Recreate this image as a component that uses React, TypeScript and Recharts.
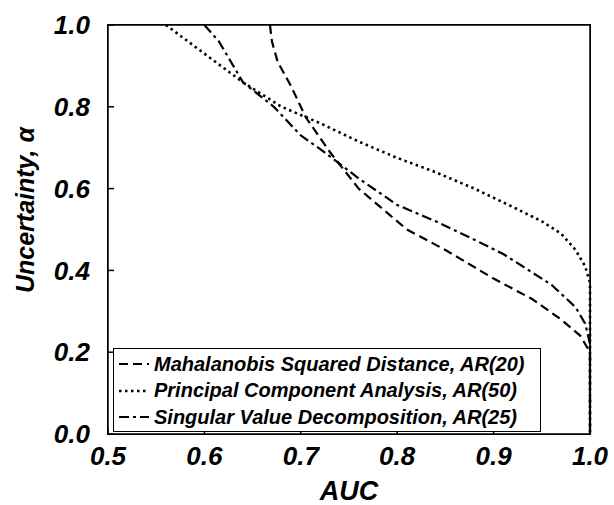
import React, { useEffect, useState } from "react";
import { LineChart, Line, XAxis, YAxis, Label } from "recharts";

// AUC vs. uncertainty
const mahalAuc = [0.668, 0.67, 0.676, 0.69, 0.705, 0.73, 0.76, 0.785, 0.81, 0.85, 0.9, 0.94, 0.97, 0.99, 1.0, 1.0];
const mahalAlpha = [1.0, 0.96, 0.91, 0.85, 0.775, 0.69, 0.6, 0.55, 0.5, 0.45, 0.38, 0.33, 0.28, 0.24, 0.2, 0.0];

const pcaAuc = [0.56, 0.6, 0.64, 0.68, 0.72, 0.76, 0.8, 0.84, 0.88, 0.92, 0.95, 0.97, 0.985, 0.995, 1.0, 1.0];
const pcaAlpha = [1.0, 0.93, 0.86, 0.8, 0.76, 0.715, 0.675, 0.64, 0.6, 0.555, 0.52, 0.49, 0.45, 0.41, 0.37, 0.0];

const svdAuc = [0.6, 0.615, 0.64, 0.672, 0.7, 0.724, 0.76, 0.8, 0.84, 0.88, 0.91, 0.96, 0.985, 0.995, 1.0, 1.0];
const svdAlpha = [1.0, 0.96, 0.86, 0.8, 0.73, 0.69, 0.625, 0.56, 0.52, 0.475, 0.44, 0.365, 0.31, 0.27, 0.22, 0.0];

const xTicks = [0.5, 0.6, 0.7, 0.8, 0.9, 1.0];
const yTicks = [0.0, 0.2, 0.4, 0.6, 0.8, 1.0];

const seriesNames = [
  "Mahalanobis Squared Distance, AR(20)",
  "Principal Component Analysis, AR(50)",
  "Singular Value Decomposition, AR(25)",
];
const dashes = ["9 5", "2.5 3.5", "10 4 3 4"];

const toPoints = (xs: number[], ys: number[]) =>
  xs.map((x, i) => ({ auc: x, alpha: ys[i] }));

const seriesData = [
  toPoints(mahalAuc, mahalAlpha),
  toPoints(pcaAuc, pcaAlpha),
  toPoints(svdAuc, svdAlpha),
];

const FONT = "'Liberation Sans', Arial, sans-serif";
const tickStyle = {
  fontSize: 26,
  fontWeight: "bold",
  fontStyle: "italic",
  fill: "#000",
  fontFamily: FONT,
};
const fmt = (v: number) => v.toFixed(1);

// thin axes that only draw the top/right edges with inward ticks
const frameProps = {
  type: "number" as const,
  stroke: "#000",
  strokeWidth: 1.5,
  tick: false,
  tickSize: -6,
};

// plot box in page pixels (margin + axis sizes below)
const PLOT = { left: 108, top: 25, right: 590, bottom: 434 };

const App: React.FC = () => {
  // re-render a couple of times after mount so layered parts (axis lines) get drawn
  const [, setPass] = useState(0);
  useEffect(() => {
    const raf = requestAnimationFrame(() => setPass((p) => p + 1));
    const t1 = setTimeout(() => setPass((p) => p + 1), 60);
    const t2 = setTimeout(() => setPass((p) => p + 1), 250);
    return () => {
      cancelAnimationFrame(raf);
      clearTimeout(t1);
      clearTimeout(t2);
    };
  }, []);

  return (
    <div style={{ position: "absolute", left: 0, top: 0, width: 614, height: 505, background: "#fff" }}>
      <LineChart
        width={614}
        height={505}
        margin={{ top: 24, right: 23, left: 0, bottom: 0 }}
      >
        <XAxis xAxisId="frameTop" orientation="top" domain={[0.5, 1.0]} ticks={xTicks} height={1} {...frameProps} />
        <YAxis yAxisId="frameRight" orientation="right" domain={[0, 1]} ticks={yTicks} width={1} {...frameProps} />
        <XAxis
          dataKey="auc"
          type="number"
          domain={[0.5, 1.0]}
          ticks={xTicks}
          tickFormatter={fmt}
          height={71}
          stroke="#000"
          strokeWidth={1.5}
          tickSize={-6}
          tickMargin={19}
          tick={tickStyle}
        >
          <Label
            value="AUC"
            position="insideBottom"
            offset={5}
            style={{ fontSize: 27, fontWeight: "bold", fontStyle: "italic", fill: "#000", fontFamily: FONT }}
          />
        </XAxis>
        <YAxis
          type="number"
          domain={[0, 1]}
          ticks={yTicks}
          tickFormatter={fmt}
          width={108}
          stroke="#000"
          strokeWidth={1.5}
          tickSize={-6}
          tickMargin={24}
          tick={tickStyle}
        />
        {seriesData.map((d, i) => (
          <Line
            key={seriesNames[i]}
            data={d}
            dataKey="alpha"
            name={seriesNames[i]}
            type="linear"
            stroke="#000"
            strokeWidth={i === 1 ? 2.6 : 2.2}
            strokeDasharray={dashes[i]}
            dot={false}
            isAnimationActive={false}
          />
        ))}
      </LineChart>
      {/* box around the plot area */}
      <div
        style={{
          position: "absolute",
          left: PLOT.left - 0.75,
          top: PLOT.top - 0.75,
          width: PLOT.right - PLOT.left + 1.5,
          height: PLOT.bottom - PLOT.top + 1.5,
          border: "1.5px solid #000",
          boxSizing: "border-box",
          pointerEvents: "none",
        }}
      />
      {/* y-axis title */}
      <div
        style={{
          position: "absolute",
          left: 25,
          top: 210,
          transform: "translate(-50%, -50%) rotate(-90deg)",
          fontFamily: FONT,
          fontWeight: "bold",
          fontStyle: "italic",
          fontSize: 25,
          whiteSpace: "nowrap",
          lineHeight: 1,
        }}
      >
        Uncertainty, α
      </div>
      {/* legend box, drawn over the lower part of the plot */}
      <div
        style={{
          position: "absolute",
          left: 113,
          top: 348,
          width: 426,
          height: 80,
          border: "1.5px solid #000",
          background: "#fff",
          fontFamily: FONT,
          fontWeight: "bold",
          fontStyle: "italic",
          fontSize: 20,
          paddingTop: 2,
        }}
      >
        {seriesNames.map((name, i) => (
          <div key={name} style={{ display: "flex", alignItems: "center", height: 26.5 }}>
            <svg width={36} height={10} style={{ marginLeft: 4 }}>
              <line
                x1={1}
                y1={5}
                x2={31}
                y2={5}
                stroke="#000"
                strokeWidth={i === 1 ? 2.6 : 2.2}
                strokeDasharray={dashes[i]}
              />
            </svg>
            <span style={{ whiteSpace: "nowrap" }}>{name}</span>
          </div>
        ))}
      </div>
    </div>
  );
};

export default App;
